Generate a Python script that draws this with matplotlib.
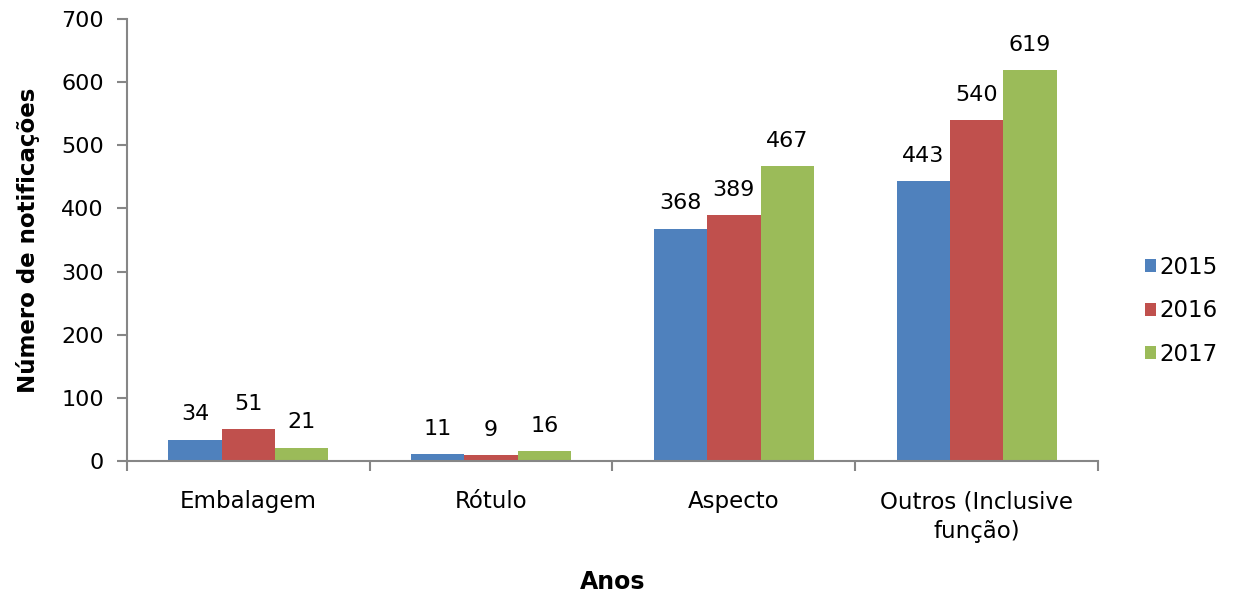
import matplotlib.pyplot as plt
import numpy as np

plt.rcParams['font.family'] = ['DejaVu Sans']

categorias = ['Embalagem', 'Rótulo', 'Aspecto', 'Outros (Inclusive\nfunção)']
anos = ['2015', '2016', '2017']
v2015 = [34, 11, 368, 443]
v2016 = [51, 9, 389, 540]
v2017 = [21, 16, 467, 619]
cores = ['#4F81BD', '#C0504D', '#9BBB59']

fig = plt.figure(figsize=(12.4, 5.97), dpi=100)
ax = fig.add_axes([0.1024, 0.2278, 0.7831, 0.7402])

x = np.arange(len(categorias))
largura = 0.22
for i, (serie, ano) in enumerate(zip([v2015, v2016, v2017], anos)):
    pos = x + (i - 1) * largura
    barras = ax.bar(pos, serie, largura, color=cores[i], label=ano)
    for b, v in zip(barras, serie):
        ax.annotate(str(v), (b.get_x() + b.get_width() / 2, v),
                    xytext=(0, 11), textcoords='offset points',
                    ha='center', va='bottom', fontsize=16)

ax.set_xlim(-0.5, len(categorias) - 0.5)
ax.set_ylim(0, 700)
ax.set_yticks(range(0, 701, 100))

# divisões entre categorias no eixo x
ax.set_xticks(np.arange(-0.5, len(categorias), 1))
ax.set_xticklabels([])
ax.set_xticks(x, minor=True)
ax.set_xticklabels(categorias, minor=True, fontsize=16.5)
for t in ax.get_xticklabels(minor=True):
    t.set_linespacing(1.4)
ax.tick_params(axis='x', which='minor', length=0, pad=21)
ax.tick_params(axis='x', which='major', length=7, width=1.5, color='#868686')
ax.tick_params(axis='y', length=7, width=1.5, color='#868686', labelsize=16, pad=9.5)

for s in ['top', 'right']:
    ax.spines[s].set_visible(False)
for s in ['left', 'bottom']:
    ax.spines[s].set_color('#868686')
    ax.spines[s].set_linewidth(1.5)

ax.set_xlabel('Anos', fontsize=17, fontweight='bold', labelpad=19)
ax.set_ylabel('Número de notificações', fontsize=16.5, fontweight='bold', labelpad=15)

ax.legend(loc='center left', bbox_to_anchor=(1.027, 0.34), frameon=False,
          fontsize=16.5, handlelength=0.5, handleheight=0.5, handletextpad=0.15,
          labelspacing=0.9)

fig.savefig('out.png', dpi=100)
